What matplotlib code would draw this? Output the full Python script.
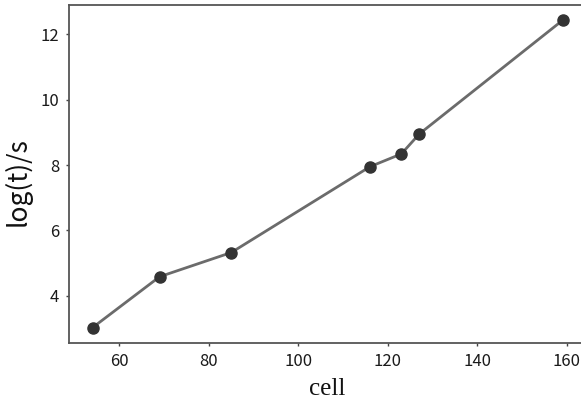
import matplotlib
matplotlib.use("Agg")
import matplotlib.pyplot as plt

cells = [54, 69, 85, 116, 123, 127, 159]
log_t = [3.02, 4.58, 5.32, 7.95, 8.34, 8.95, 12.43]

fig = plt.figure(figsize=(5.81, 4.01), dpi=100)
ax = fig.add_axes([69/581, 1 - 343/401, (586 - 69)/581, (343 - 5)/401])
ax.plot(cells, log_t, color="#6b6b6b", linewidth=2, marker="o",
        markersize=8, markerfacecolor="#333333", markeredgecolor="#333333")
ax.set_xticks([60, 80, 100, 120, 140, 160])
ax.set_yticks([4, 6, 8, 10, 12])
ax.tick_params(color="#444444", labelcolor="#1a1a1a", length=2.5, width=1, pad=4.5)
for lab in ax.get_xticklabels() + ax.get_yticklabels():
    lab.set_fontfamily("Noto Sans CJK SC")
    lab.set_fontsize(12)
for s in ax.spines.values():
    s.set_color("#555555")
    s.set_linewidth(1.3)
ax.spines["right"].set_visible(False)
ax.set_xlabel("cell", fontfamily="Liberation Serif", fontsize=18, labelpad=6, color="#111111")
ax.set_ylabel("log(t)/s", fontfamily="Noto Sans CJK SC", fontsize=19, color="#111111")
ax.yaxis.set_label_coords(-0.073, 0.478)
fig.savefig("out.png", dpi=100)
